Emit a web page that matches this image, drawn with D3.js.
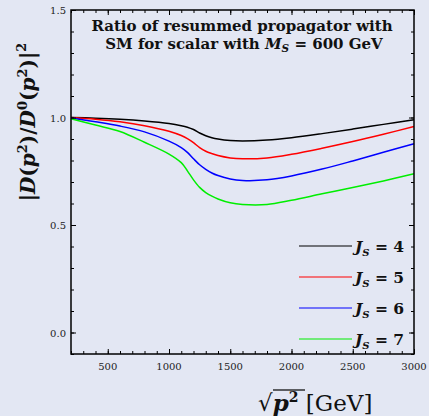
<!DOCTYPE html>
<html>
<head>
<meta charset="utf-8">
<script src="https://cdn.jsdelivr.net/npm/d3@7"></script>
<style>
  body { margin: 0; background: #e3e7f3; }
  svg { display: block; }
  text { font-family: "DejaVu Serif", serif; }
</style>
</head>
<body>
<div class="svg-container"></div>
<script>
var width = 429, height = 416;
var margin = {top: 10, right: 15, bottom: 62, left: 71};

// sqrt(p^2) in GeV
var mass = [200, 400, 600, 800, 1000, 1100, 1150, 1200, 1250, 1300, 1350, 1400, 1500, 1600, 1800, 2000, 2250, 2500, 2750, 3000];
var ratioJ4 = [1.0, 0.997, 0.992, 0.984, 0.972, 0.962, 0.955, 0.944, 0.928, 0.915, 0.906, 0.900, 0.893, 0.891, 0.895, 0.906, 0.925, 0.946, 0.968, 0.990];
var ratioJ5 = [1.0, 0.992, 0.980, 0.962, 0.936, 0.916, 0.902, 0.883, 0.860, 0.843, 0.832, 0.823, 0.812, 0.808, 0.812, 0.829, 0.857, 0.888, 0.922, 0.958];
var ratioJ6 = [0.998, 0.980, 0.960, 0.933, 0.890, 0.860, 0.838, 0.808, 0.780, 0.759, 0.742, 0.730, 0.714, 0.707, 0.710, 0.728, 0.760, 0.798, 0.838, 0.878];
var ratioJ7 = [0.994, 0.965, 0.935, 0.885, 0.830, 0.790, 0.752, 0.710, 0.675, 0.651, 0.634, 0.621, 0.603, 0.595, 0.595, 0.615, 0.645, 0.674, 0.705, 0.738];
var seriesNames = ["4", "5", "6", "7"];
var seriesColors = ["#000000", "#ff0000", "#0000ff", "#00ee00"];
var xTicks = [500, 1000, 1500, 2000, 2500, 3000];
var yTicks = [0.0, 0.5, 1.0, 1.5];

var series = [ratioJ4, ratioJ5, ratioJ6, ratioJ7].map(function(vals, i) {
  return { name: seriesNames[i], color: seriesColors[i],
           points: vals.map(function(v, j) { return {x: mass[j], y: v}; }) };
});

var svg = d3.select(".svg-container").append("svg")
            .attr("width", width).attr("height", height);

var x = d3.scaleLinear().domain([200, 3000]).range([margin.left, width - margin.right]);
var y = d3.scaleLinear().domain([-0.1, 1.5]).range([height - margin.bottom, margin.top]);

// curves
var line = d3.line().x(function(d) { return x(d.x); }).y(function(d) { return y(d.y); })
             .curve(d3.curveCatmullRom.alpha(0.5));
svg.append("g").selectAll("path").data(series).enter().append("path")
   .attr("d", function(d) { return line(d.points); })
   .attr("fill", "none")
   .attr("stroke", function(d) { return d.color; })
   .attr("stroke-width", 1.5);

// axes, ticks inward on all four sides
var xMinor = d3.range(200, 3001, 100), yMinor = d3.range(-0.1, 1.51, 0.1);
var xb = height - margin.bottom, yl = margin.left, xt = margin.top, yr = width - margin.right;

var axes = [
  {fn: d3.axisTop, s: x, tr: "translate(0," + xb + ")", minor: xMinor, major: xTicks},
  {fn: d3.axisBottom, s: x, tr: "translate(0," + xt + ")", minor: xMinor, major: xTicks},
  {fn: d3.axisRight, s: y, tr: "translate(" + yl + ",0)", minor: yMinor, major: yTicks},
  {fn: d3.axisLeft, s: y, tr: "translate(" + yr + ",0)", minor: yMinor, major: yTicks}
];
axes.forEach(function(a) {
  var g1 = svg.append("g").attr("transform", a.tr)
              .call(a.fn(a.s).tickValues(a.minor).tickSize(3).tickFormat(""));
  var g2 = svg.append("g").attr("transform", a.tr)
              .call(a.fn(a.s).tickValues(a.major).tickSize(5).tickFormat(""));
  [g1, g2].forEach(function(g) {
    g.select(".domain").remove();
    g.selectAll("line").attr("stroke", "#000").attr("stroke-width", 1);
  });
});

// tick labels
svg.append("g").selectAll("text").data(xTicks).enter().append("text")
   .attr("x", function(d) { return x(d); }).attr("y", xb + 16)
   .attr("text-anchor", "middle").attr("font-size", 10)
   .attr("fill", "#222").text(function(d) { return d; });
svg.append("g").selectAll("text").data(yTicks).enter().append("text")
   .attr("x", yl - 5).attr("y", function(d) { return y(d) + 4; })
   .attr("text-anchor", "end").attr("font-size", 10)
   .attr("fill", "#222").text(function(d) { return d.toFixed(1); });

// frame
svg.append("rect").attr("x", yl).attr("y", xt).attr("width", yr - yl).attr("height", xb - xt)
   .attr("fill", "none").attr("stroke", "#000").attr("stroke-width", 1.5);

// title
svg.append("text").attr("x", 242).attr("y", 31).attr("font-weight", "bold")
   .attr("font-size", 15).attr("text-anchor", "middle").attr("fill", "#111")
   .text("Ratio of resummed propagator with");
var t2 = svg.append("text").attr("x", 244).attr("y", 49).attr("font-weight", "bold")
   .attr("font-size", 15).attr("text-anchor", "middle").attr("fill", "#111");
t2.append("tspan").text("SM for scalar with ");
t2.append("tspan").attr("font-style", "italic").text("M");
t2.append("tspan").attr("font-style", "italic").attr("font-size", 10.5).attr("dy", 3).text("S");
t2.append("tspan").attr("dy", -3).text(" = 600 GeV");

// legend
var leg = svg.append("g").selectAll("g").data(series).enter().append("g")
   .attr("transform", function(d, i) { return "translate(299," + (246 + i * 31) + ")"; });
leg.append("line").attr("x1", 0).attr("x2", 53).attr("y1", 0).attr("y2", 0)
   .attr("stroke", function(d) { return d.color; }).attr("stroke-width", 1.2);
var lt = leg.append("text").attr("x", 56).attr("y", 6)
   .attr("font-weight", "bold").attr("font-size", 15.5).attr("fill", "#111");
lt.append("tspan").attr("font-style", "italic").text("J");
lt.append("tspan").attr("font-style", "italic").attr("font-size", 10).attr("dy", 4).text("S");
lt.append("tspan").attr("dy", -4).text(function(d) { return " = " + d.name; });

// y label
var ylab = svg.append("text").attr("transform", "translate(35,122) rotate(-90)")
   .attr("text-anchor", "middle").attr("font-weight", "bold")
   .attr("font-size", 20).attr("fill", "#111");
ylab.append("tspan").text("|");
ylab.append("tspan").attr("font-style", "italic").text("D");
ylab.append("tspan").text("(");
ylab.append("tspan").attr("font-style", "italic").text("p");
ylab.append("tspan").attr("font-size", 13).attr("dy", -8).text("2");
ylab.append("tspan").attr("dy", 8).text(")/");
ylab.append("tspan").attr("font-style", "italic").text("D");
ylab.append("tspan").attr("font-size", 13).attr("dy", -8).text("0");
ylab.append("tspan").attr("dy", 8).text("(");
ylab.append("tspan").attr("font-style", "italic").text("p");
ylab.append("tspan").attr("font-size", 13).attr("dy", -8).text("2");
ylab.append("tspan").attr("dy", 8).text(")|");
ylab.append("tspan").attr("font-size", 13).attr("dy", -9).text("2");

// x label
var xlab = svg.append("text").attr("x", 258).attr("y", 411)
   .attr("font-weight", "bold").attr("font-size", 23).attr("fill", "#111");
xlab.append("tspan").attr("font-weight", "normal").text("\u221A");
xlab.append("tspan").attr("font-style", "italic").text("p");
xlab.append("tspan").attr("font-size", 14).attr("dy", -9).text("2");
xlab.append("tspan").attr("dy", 9).attr("font-weight", "normal").text(" [GeV]");
svg.append("line").attr("x1", 273).attr("x2", 305).attr("y1", 390).attr("y2", 390)
   .attr("stroke", "#111").attr("stroke-width", 1.3);
</script>
</body>
</html>
